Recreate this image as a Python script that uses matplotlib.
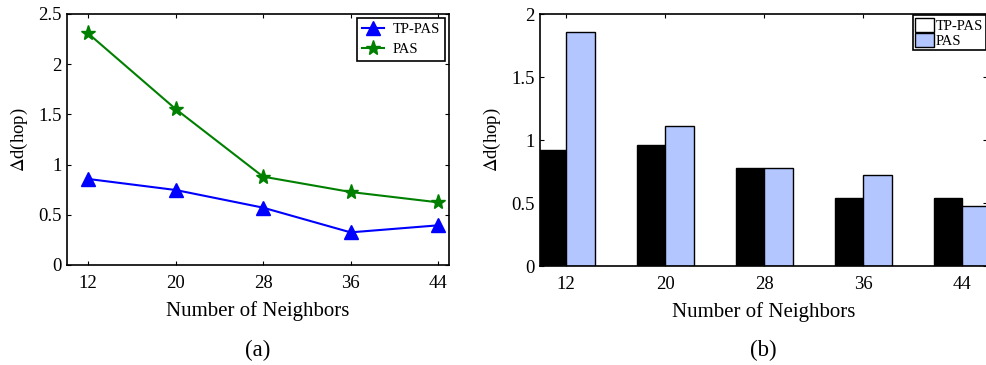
import matplotlib.pyplot as plt
from matplotlib.patches import Patch

plt.rcParams['font.family'] = ['Liberation Serif', 'DejaVu Serif']
plt.rcParams['mathtext.fontset'] = 'stix'

neighbors = [12, 20, 28, 36, 44]

# (a) average hop difference, line plot
tp_pas_line = [0.857, 0.747, 0.571, 0.325, 0.395]
pas_line = [2.307, 1.554, 0.880, 0.727, 0.624]

# (b) bar plot
tp_pas_bar = [0.92, 0.96, 0.78, 0.54, 0.54]
pas_bar = [1.86, 1.11, 0.78, 0.72, 0.48]

fig = plt.figure(figsize=(9.86, 3.65), dpi=100)


def style_axes(ax):
    ax.tick_params(direction='in', top=True, right=True, labelsize=13.5,
                   length=3, width=0.8, pad=4)
    ax.tick_params(axis='x', pad=7)
    for s in ax.spines.values():
        s.set_linewidth(1.2)
    ax.set_xticks(neighbors)
    ax.set_xlabel('Number of Neighbors', fontsize=15, labelpad=7)
    ax.set_ylabel(r'$\Delta$d(hop)', fontsize=13.5, labelpad=6)


ax1 = fig.add_axes([0.068, 0.274, 0.3874, 0.6877])
ax1.plot(neighbors, tp_pas_line, color='blue', marker='^', markersize=10,
         linewidth=1.5, label='TP-PAS')
ax1.plot(neighbors, pas_line, color='green', marker='*', markersize=11,
         linewidth=1.5, label='PAS')
ax1.set_xlim(10.08, 45.0)
ax1.set_ylim(0, 2.5)
ax1.set_yticks([0, 0.5, 1, 1.5, 2, 2.5])
ax1.set_yticklabels(['0', '0.5', '1', '1.5', '2', '2.5'])
style_axes(ax1)
leg1 = ax1.legend(loc='upper right', fontsize=10.5, fancybox=False,
                  edgecolor='black', framealpha=1, borderaxespad=0.25,
                  handlelength=1.5, handletextpad=0.6, borderpad=0.35,
                  labelspacing=0.45)
leg1.get_frame().set_linewidth(1.2)

ax2 = fig.add_axes([0.5477, 0.2712, 0.4533, 0.6904])
w = 2.3
ax2.bar([x - w / 2 for x in neighbors], tp_pas_bar, width=w, color='black',
        edgecolor='black', linewidth=1.0)
ax2.bar([x + w / 2 for x in neighbors], pas_bar, width=w, color='#b3c6ff',
        edgecolor='black', linewidth=1.0)
ax2.set_xlim(9.9, 46.0)
ax2.set_ylim(0, 2)
ax2.set_yticks([0, 0.5, 1, 1.5, 2])
ax2.set_yticklabels(['0', '0.5', '1', '1.5', '2'])
style_axes(ax2)
handles = [Patch(facecolor='white', edgecolor='black', label='TP-PAS'),
           Patch(facecolor='#b3c6ff', edgecolor='black', label='PAS')]
leg2 = ax2.legend(handles=handles, loc='upper right', fontsize=10.5,
                  fancybox=False, edgecolor='black', framealpha=1,
                  borderaxespad=0.1, handlelength=1.3, handleheight=1.1,
                  handletextpad=0.15, borderpad=0.15, labelspacing=0.05)
leg2.get_frame().set_linewidth(1.2)

fig.text(0.2617, 0.041, '(a)', ha='center', va='center', fontsize=16.5)
fig.text(0.774, 0.041, '(b)', ha='center', va='center', fontsize=16.5)

fig.savefig('out.png', dpi=100)
